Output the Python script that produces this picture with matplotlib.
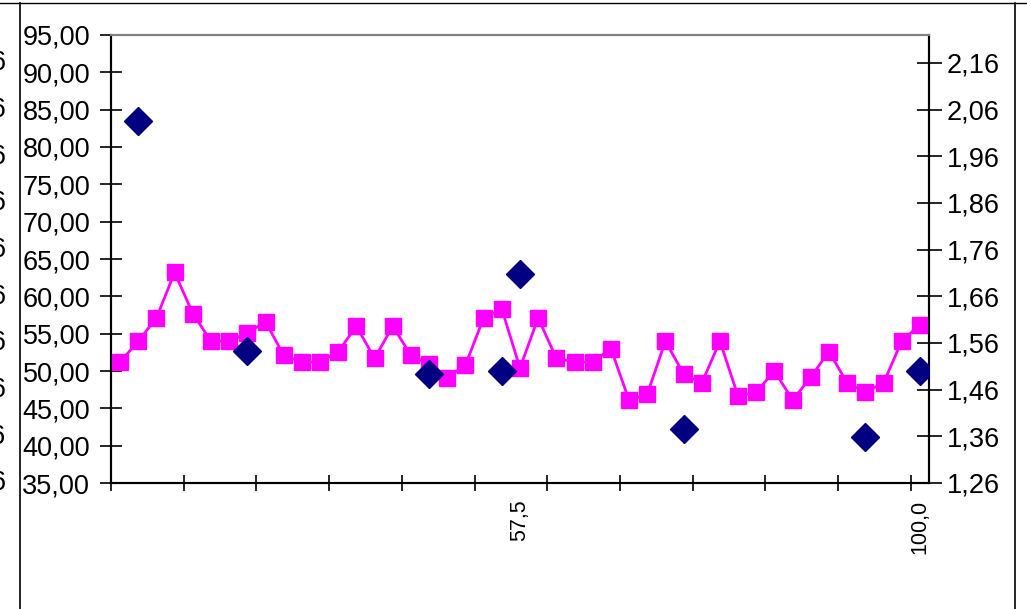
import numpy as np
import matplotlib
matplotlib.use("Agg")
import matplotlib.pyplot as plt
from matplotlib.lines import Line2D
from matplotlib.transforms import blended_transform_factory

plt.rcParams['font.family'] = ['Liberation Sans', 'DejaVu Sans']

# magenta series (left axis), one value per category
pink_vals = [51.2, 54.0, 57.1, 63.2, 57.7, 54.0, 54.0, 55.1, 56.6, 52.1,
             51.2, 51.2, 52.6, 56.0, 51.7, 56.0, 52.1, 50.9, 49.1, 50.8,
             57.1, 58.3, 50.4, 57.1, 51.7, 51.2, 51.2, 53.0, 46.1, 46.9,
             54.0, 49.6, 48.4, 54.0, 46.6, 47.2, 50.0, 46.1, 49.2, 52.6,
             48.4, 47.2, 48.4, 54.0, 56.2]

# navy diamonds (right axis)
dia_idx = [1, 7, 17, 21, 22, 31, 41, 44]
dia_vals = [2.035, 1.543, 1.493, 1.500, 1.708, 1.375, 1.359, 1.500]

# category labels shown on x axis
xlab_idx = [22, 44]
xlab_text = ['57,5', '100,0']

left_ticks = [35, 40, 45, 50, 55, 60, 65, 70, 75, 80, 85, 90, 95]
right_ticks = [1.26, 1.36, 1.46, 1.56, 1.66, 1.76, 1.86, 1.96, 2.06, 2.16]

W, H = 1027, 609
fig = plt.figure(figsize=(W / 100, H / 100), dpi=100)
ax = fig.add_axes([111 / W, 1 - 483 / H, (929 - 111) / W, (483 - 35) / H])
ax2 = ax.twinx()

n = len(pink_vals)
x = np.arange(n)
ax.plot(x, pink_vals, color='#FF00FF', lw=2, marker='s', ms=11.5,
        mec='#FF00FF', mfc='#FF00FF', zorder=3)
ax2.plot(dia_idx, dia_vals, ls='none', marker='D', ms=14,
         mfc='#000080', mec='#000080', zorder=4)

ax.set_xlim(-0.5, n - 0.5)
ax.set_ylim(35, 95)
ax2.set_ylim(1.26, 2.22)

ax.set_yticks(left_ticks)
ax.set_yticklabels([f"{v:.2f}".replace('.', ',') for v in left_ticks], fontsize=19.5)
ax2.set_yticks(right_ticks)
ax2.set_yticklabels([f"{v:.2f}".replace('.', ',') for v in right_ticks], fontsize=19.5)

ax.set_xticks(np.arange(-0.5, n, 4))
ax.set_xticklabels([])
ax.set_xticks(xlab_idx, minor=True)
ax.set_xticklabels(xlab_text, minor=True, rotation=90, fontsize=15.5, va='top')
ax.tick_params(axis='x', which='minor', length=0, pad=12)
ax.tick_params(axis='x', which='major', direction='inout', length=12, width=1.2)
ax.tick_params(axis='y', direction='inout', length=16, width=1.2, pad=7)
ax2.tick_params(axis='y', direction='inout', length=18, width=1.2, pad=4)

for a in (ax, ax2):
    for s in a.spines.values():
        s.set_color('black')
        s.set_linewidth(1.5)
    a.spines['top'].set_color('#808080')

# clipped labels of the neighbouring chart at the far left
tr = blended_transform_factory(fig.transFigure, ax2.transData)
for v in right_ticks:
    fig.text(6.5 / W, v, f"{v:.2f}".replace('.', ','), transform=tr,
             ha='right', va='center', fontsize=19.5)

# outer chart frame
fig.add_artist(Line2D([0, 1], [1 - 2.5 / H, 1 - 2.5 / H], color='black', lw=1))
fig.add_artist(Line2D([19.5 / W, 19.5 / W], [0, 1 - 2.5 / H], color='black', lw=1.2))
fig.add_artist(Line2D([1014.5 / W, 1014.5 / W], [0, 1 - 2.5 / H], color='black', lw=1.2))

fig.savefig('out.png', dpi=100)
